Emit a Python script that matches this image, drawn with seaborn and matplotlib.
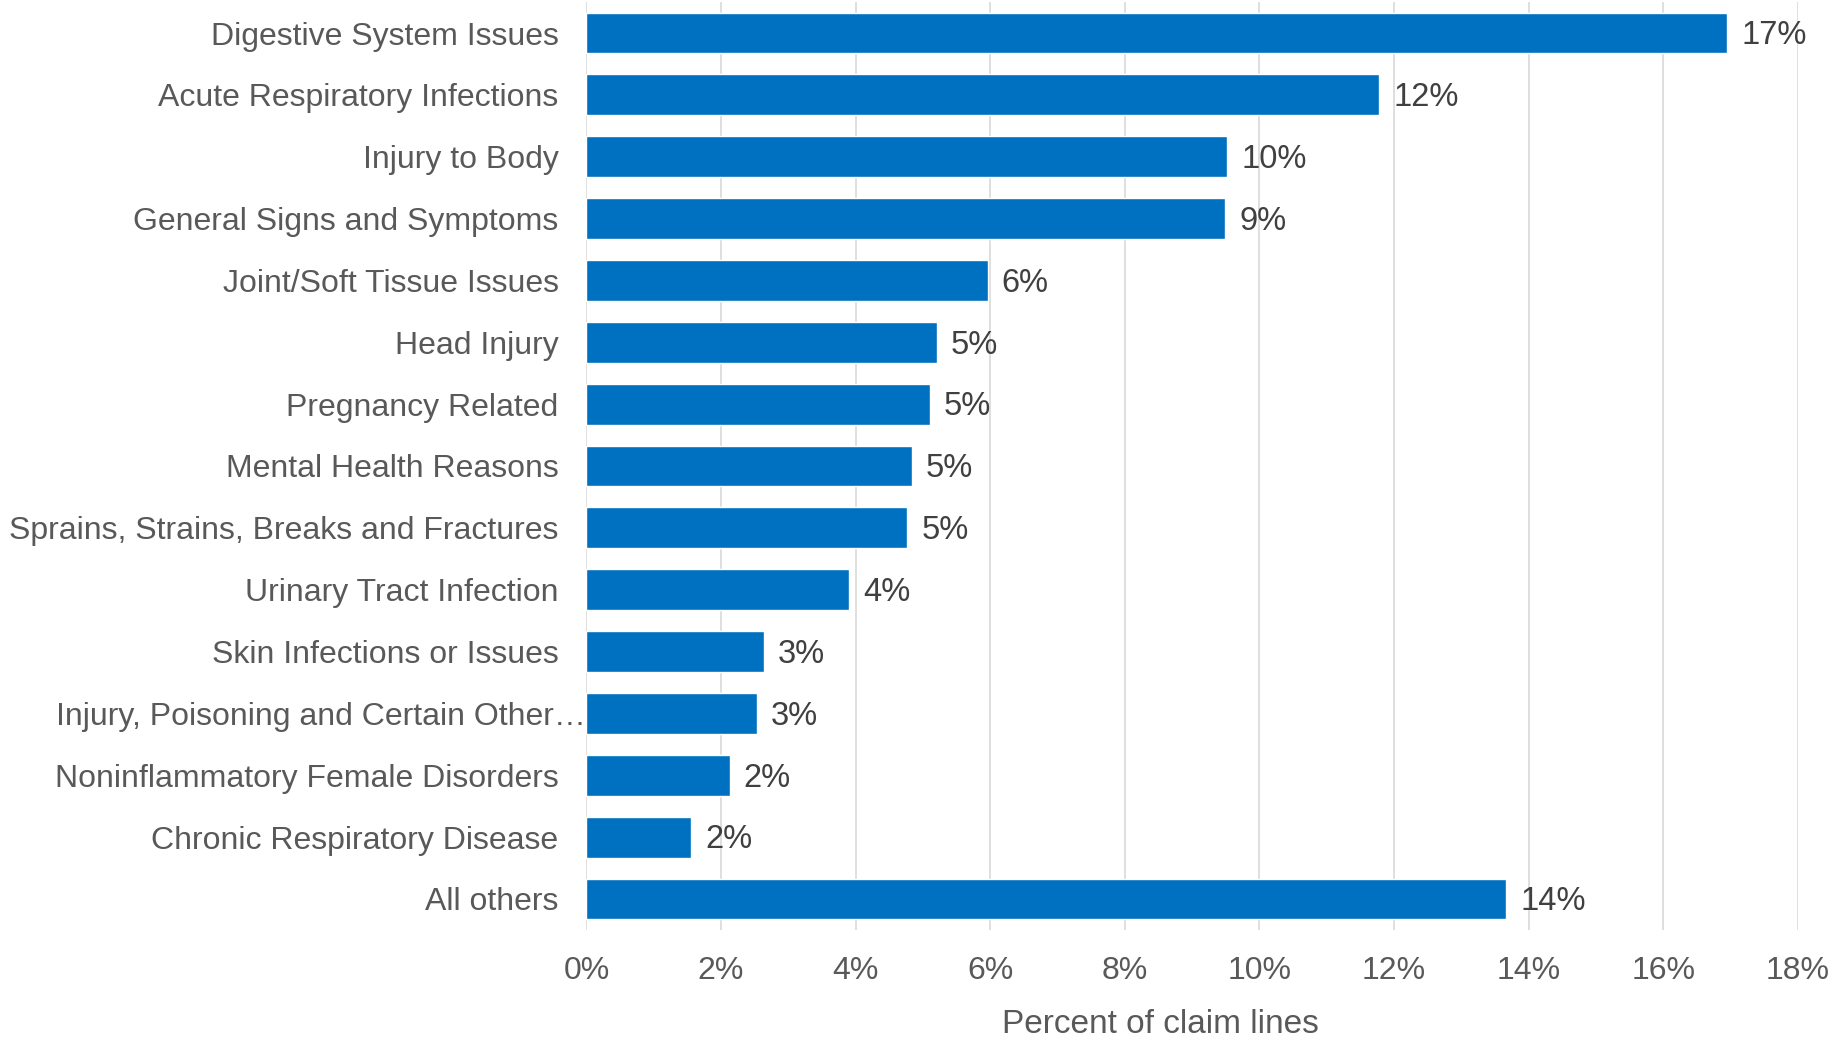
import matplotlib
matplotlib.use("Agg")
import matplotlib.pyplot as plt
import matplotlib.transforms as mtransforms
import seaborn as sns
import pandas as pd
from matplotlib.ticker import FuncFormatter

categories = [
    "Digestive System Issues",
    "Acute Respiratory Infections",
    "Injury to Body",
    "General Signs and Symptoms",
    "Joint/Soft Tissue Issues",
    "Head Injury",
    "Pregnancy Related",
    "Mental Health Reasons",
    "Sprains, Strains, Breaks and Fractures",
    "Urinary Tract Infection",
    "Skin Infections or Issues",
    "Injury, Poisoning and Certain Other\u2026",
    "Noninflammatory Female Disorders",
    "Chronic Respiratory Disease",
    "All others",
]
values = [16.95, 11.78, 9.52, 9.49, 5.96, 5.21, 5.10, 4.84, 4.77, 3.90, 2.64, 2.53, 2.13, 1.56, 13.67]
x_ticks = [0, 2, 4, 6, 8, 10, 12, 14, 16, 18]

df = pd.DataFrame({"category": categories, "value": values})

sns.set_style("white")
plt.rcParams["font.family"] = ["Liberation Sans", "DejaVu Sans"]

fig = plt.figure(figsize=(18.44, 10.39), dpi=100)
ax = fig.add_axes([0.318, 0.105, 0.657, 0.893])

sns.barplot(data=df, x="value", y="category", orient="h", color="#0070C0",
            saturation=1, width=0.66, ax=ax)

for c in ax.containers:
    anns = ax.bar_label(c, labels=[f"{v:.0f}%" for v in values], padding=10,
                        fontsize=23.5, color="#404040")
    for a in anns:
        a.xyann = (10, -2)

ax.set_xlim(0, 18)
ax.set_xticks(x_ticks)
ax.xaxis.set_major_formatter(FuncFormatter(lambda v, p: f"{v:.0f}%"))
ax.grid(axis="x", color="#D9D9D9", linewidth=1.2)
ax.set_axisbelow(True)
for s in ax.spines.values():
    s.set_visible(False)
ax.tick_params(axis="y", length=0, pad=20, labelsize=23, labelcolor="#595959")
ax.tick_params(axis="x", length=0, pad=19, labelsize=23, labelcolor="#595959")
ax.set_ylabel("")
ax.set_xlabel("Percent of claim lines", fontsize=24, color="#595959")
ax.xaxis.set_label_coords(0.474, -0.085)

# truncated label sits right against the axis in the reference
fig.canvas.draw()
for lab in ax.get_yticklabels():
    if lab.get_text().endswith("\u2026"):
        lab.set_transform(lab.get_transform() +
                          mtransforms.ScaledTranslation(27 / 100, 0, fig.dpi_scale_trans))

fig.savefig("out.png", dpi=100)
